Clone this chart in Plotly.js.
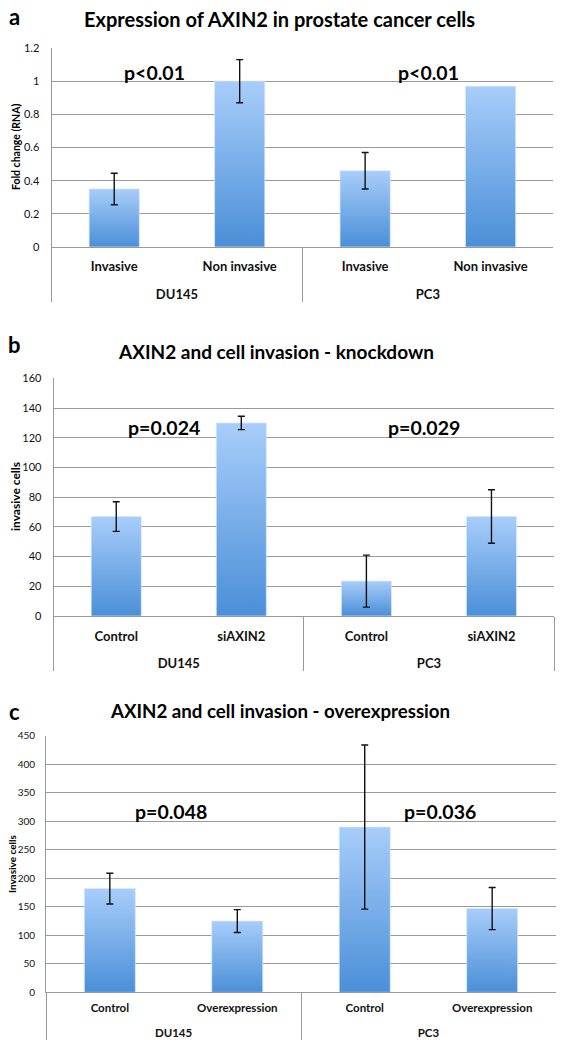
<!DOCTYPE html>
<html><head><meta charset="utf-8">
<script src="https://cdn.plot.ly/plotly-3.0.1.min.js"></script>
<style>body{margin:0;background:#fff}#chart{width:569px;height:1050px}</style>
</head><body><div id="chart"></div>
<script>
const groups = ['DU145','DU145','PC3','PC3'];
const catsA = ['Invasive','Non invasive','Invasive','Non invasive'];
const valsA = [0.35, 1.0, 0.46, 0.97];
const errA = [0.095, 0.13, 0.11, NaN];
const catsB = ['Control','siAXIN2','Control','siAXIN2'];
const valsB = [67, 130, 23.5, 67];
const errB = [10, 4.5, 17.5, 18];
const catsC = ['Control','Overexpression','Control','Overexpression'];
const valsC = [182, 125, 290, 147];
const errC = [27, 20, 144, 37];

const FONT = 'Lato, "Open Sans", sans-serif';
const GRID = '#9a9a9a';
const W = 569, H = 1050;
function px(x){return x/W;}
function py(y){return 1 - y/H;}
function spaced(cats){return cats.map(function(c){return c + '<br>&nbsp;';});}

function bar(cats, vals, errs, ax){
  return {type:'bar', x:[groups, spaced(cats)], y:vals, xaxis:'x'+ax, yaxis:'y'+ax,
    marker:{color:'#7aaeea', line:{color:'rgba(215,232,252,0.9)', width:0.8}},
    error_y:{type:'data', array:errs, visible:true, color:'#111', thickness:1.4, width:3.5},
    showlegend:false, hoverinfo:'skip'};
}
const data = [bar(catsA,valsA,errA,''), bar(catsB,valsB,errB,'2'), bar(catsC,valsC,errC,'3')];

function xax(l, r, anchor, fs, so){
  return {domain:[px(l),px(r)], anchor:anchor, type:'multicategory', range:[-0.5,3.5],
    showline:true, linecolor:GRID, linewidth:1, showgrid:false, ticks:'',
    showdividers:true, dividercolor:GRID, dividerwidth:1, ticklabelstandoff:so,
    tickfont:{family:FONT, size:fs, color:'#111', weight:'bold'}, fixedrange:true};
}
function yax(t, b, anchor, rng, dt, fs, so){
  return {domain:[py(b),py(t)], anchor:anchor, range:rng, dtick:dt, tick0:0,
    showline:true, linecolor:GRID, linewidth:1, showgrid:true, gridcolor:GRID, gridwidth:1,
    zeroline:false, ticks:'', ticklabelstandoff:so,
    tickfont:{family:FONT, size:fs, color:'#111'}, fixedrange:true};
}
function ann(text, x, y, size, extra){
  return Object.assign({text:text, x:x, y:y, xref:'paper', yref:'paper', showarrow:false,
    xanchor:'center', yanchor:'middle', font:{family:FONT, size:size, color:'#000', weight:'bold'}}, extra||{});
}

const layout = {
  width:W, height:H, margin:{l:0,r:0,t:0,b:0}, paper_bgcolor:'#fff', plot_bgcolor:'#fff',
  bargap:0.6, showlegend:false,
  xaxis: xax(51.5, 553.3, 'y', 13, 7),
  yaxis: yax(48, 247, 'x', [0,1.2001], 0.2, 11, 9),
  xaxis2: xax(53.7, 554, 'y2', 13, 8),
  yaxis2: yax(378.3, 616, 'x2', [0,160.1], 20, 11, 9),
  xaxis3: xax(46.1, 555.9, 'y3', 11.5, 5),
  yaxis3: yax(735.7, 992.3, 'x3', [0,450.3], 50, 10, 8),
  annotations: [
    ann('a', px(14.5), py(16), 22),
    ann('Expression of AXIN2 in prostate cancer cells', px(279.5), py(19), 20),
    ann('Fold change (RNA)', px(16), py(147), 10.5, {textangle:-90}),
    ann('p<0.01', px(154), py(72), 19.5),
    ann('p<0.01', px(428), py(72), 19.5),
    ann('b', px(14), py(345), 22),
    ann('AXIN2 and cell invasion - knockdown', px(276), py(351), 19),
    ann('invasive cells', px(15), py(497), 12, {textangle:-90}),
    ann('p=0.024', px(164.4), py(427), 19.5),
    ann('p=0.029', px(423.8), py(427), 19.5),
    ann('c', px(14.5), py(711), 22),
    ann('AXIN2 and cell invasion - overexpression', px(280), py(711), 18.7),
    ann('Invasive cells', px(12), py(864), 10, {textangle:-90}),
    ann('p=0.048', px(170.5), py(811), 19.5),
    ann('p=0.036', px(440), py(811), 19.5)
  ]
};

Plotly.newPlot('chart', data, layout, {staticPlot:true, displayModeBar:false}).then(function(gd){
  const svg = gd.querySelector('svg.main-svg');
  const ns = 'http://www.w3.org/2000/svg';
  let defs = svg.querySelector('defs');
  if(!defs){defs = document.createElementNS(ns,'defs'); svg.insertBefore(defs, svg.firstChild);}
  const g = document.createElementNS(ns,'linearGradient');
  g.setAttribute('id','barGrad'); g.setAttribute('x1','0'); g.setAttribute('y1','0');
  g.setAttribute('x2','0'); g.setAttribute('y2','1');
  [['0','#a8cdfa'],['1','#4a8fd8']].forEach(function(s){
    const st = document.createElementNS(ns,'stop');
    st.setAttribute('offset', s[0]); st.setAttribute('stop-color', s[1]);
    g.appendChild(st);
  });
  defs.appendChild(g);
  gd.querySelectorAll('.barlayer .point path').forEach(function(p){
    p.style.fill = 'url(#barGrad)';
  });
});
</script>
</body></html>
